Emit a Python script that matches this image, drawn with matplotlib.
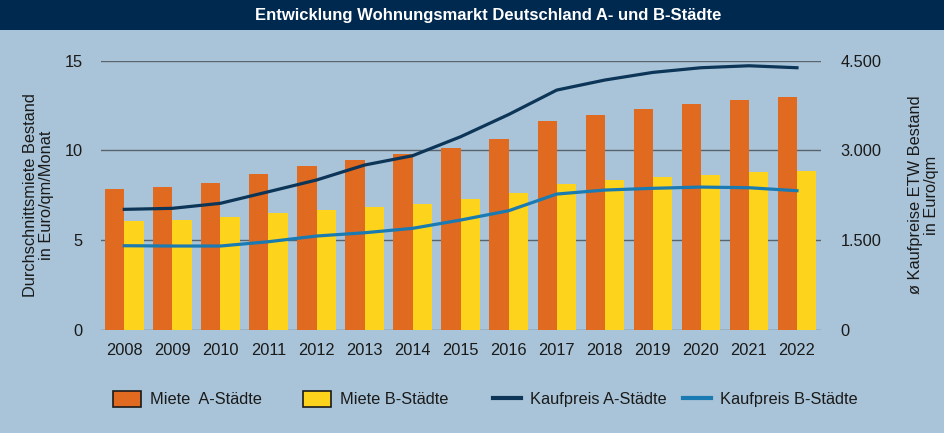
import matplotlib
matplotlib.use("Agg")
import matplotlib.pyplot as plt
import numpy as np
from matplotlib.patches import Rectangle, Patch
from matplotlib.lines import Line2D

years = ["2008", "2009", "2010", "2011", "2012", "2013", "2014", "2015",
         "2016", "2017", "2018", "2019", "2020", "2021", "2022"]
miete_a = [7.82, 7.95, 8.15, 8.69, 9.14, 9.45, 9.79, 10.12, 10.65, 11.61,
           11.98, 12.30, 12.58, 12.80, 12.97]
miete_b = [6.03, 6.11, 6.26, 6.50, 6.68, 6.83, 6.98, 7.26, 7.63, 8.11,
           8.34, 8.50, 8.65, 8.77, 8.84]
kauf_a = [2012, 2029, 2113, 2307, 2503, 2754, 2910, 3228, 3600, 4009,
          4177, 4305, 4383, 4416, 4383]
kauf_b = [1403, 1398, 1398, 1470, 1565, 1620, 1694, 1833, 1989, 2268,
          2335, 2364, 2385, 2374, 2324]
left_ticks = [0, 5, 10, 15]
right_ticks = [0, 1500, 3000, 4500]
right_ticklabels = ["0", "1.500", "3.000", "4.500"]

BG = "#a9c4d8"
NAVY = "#00294f"
ORANGE = "#e06a20"
YELLOW = "#fdd31c"
DARK = "#0c3558"
LIGHT = "#1a7ab2"
GRID = "#5a646c"
TXT = "#1a1a1a"
FS = 11.8

plt.rcParams["font.family"] = ["Liberation Sans", "DejaVu Sans"]

fig = plt.figure(figsize=(9.44, 4.33), dpi=100, facecolor=BG)
ax = fig.add_axes([0.107, 0.239, 0.7627, 0.6207])
ax.set_facecolor(BG)
ax2 = ax.twinx()

x = np.arange(len(years))
w = 0.40
ax.bar(x - w, miete_a, width=w, align="edge", color=ORANGE, zorder=2)
ax.bar(x, miete_b, width=w, align="edge", color=YELLOW, zorder=2)
ax.set_ylim(0, 15)
ax.set_xlim(-0.485, 14.5)
ax.set_yticks(left_ticks)
ax.set_yticklabels([str(t) for t in left_ticks])
ax.set_xticks(x)
ax.set_xticklabels(years)
ax.grid(axis="y", color=GRID, linewidth=1.0, zorder=0)
ax.set_axisbelow(True)
ax.tick_params(axis="both", length=0, labelsize=FS, colors=TXT)
ax.tick_params(axis="y", pad=13)
ax.tick_params(axis="x", pad=10)
for s in ax.spines.values():
    s.set_visible(False)
ax.set_ylabel("Durchschnittsmiete Bestand\nin Euro/qm/Monat", fontsize=FS,
              linespacing=1.1, labelpad=8, color=TXT)

ax2.plot(x, kauf_a, color=DARK, linewidth=2.3, zorder=3)
ax2.plot(x, kauf_b, color=LIGHT, linewidth=2.3, zorder=3)
ax2.set_ylim(0, 4500)
ax2.set_yticks(right_ticks)
ax2.set_yticklabels(right_ticklabels)
ax2.tick_params(axis="y", length=0, labelsize=FS, pad=14, colors=TXT)
for s in ax2.spines.values():
    s.set_visible(False)
ax2.set_ylabel("ø Kaufpreise ETW Bestand\nin Euro/qm", fontsize=FS,
               linespacing=1.1, labelpad=19, color=TXT)

# title banner
fig.patches.append(Rectangle((0, 0.930), 1, 0.070, transform=fig.transFigure,
                             facecolor=NAVY, edgecolor="none", zorder=0))
fig.text(0.517, 0.965, "Entwicklung Wohnungsmarkt Deutschland A- und B-Städte",
         ha="center", va="center", color="white", fontsize=12,
         fontweight="bold")

# legend entries
entries = [
    (Patch(facecolor=ORANGE, edgecolor=TXT, linewidth=1.2), "Miete  A-Städte", 113),
    (Patch(facecolor=YELLOW, edgecolor=TXT, linewidth=1.2), "Miete B-Städte", 303),
    (Line2D([], [], color=DARK, linewidth=3), "Kaufpreis A-Städte", 493),
    (Line2D([], [], color=LIGHT, linewidth=3), "Kaufpreis B-Städte", 683),
]
for h, lab, px in entries:
    fig.legend([h], [lab], loc="center left",
               bbox_to_anchor=(px / 944, 1 - 399 / 433), frameon=False,
               fontsize=FS, borderpad=0, borderaxespad=0,
               handlelength=1.7, handleheight=1.2, handletextpad=0.55,
               labelcolor=TXT)

fig.savefig("out.png", dpi=100, facecolor=BG)
